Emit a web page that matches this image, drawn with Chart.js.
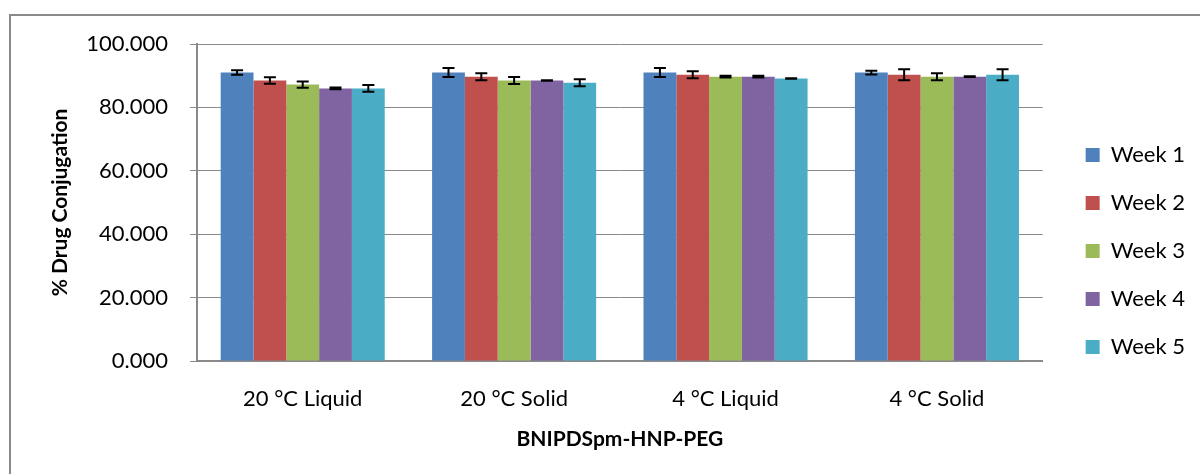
<!DOCTYPE html>
<html>
<head>
<meta charset="utf-8">
<script src="https://cdn.jsdelivr.net/npm/chart.js@4/dist/chart.umd.min.js"></script>
<style>
    html, body { margin: 0; padding: 0; background: #fff; overflow: hidden; }
    #wrap { position: relative; width: 1200px; height: 474px; }
    #frame {
        position: absolute; left: 9px; top: 14px; width: 1300px; height: 600px;
        border: 2px solid #898989; box-sizing: border-box;
    }
    canvas { position: absolute; left: 0; top: 0; }
</style>
</head>
<body>
<div id="wrap">
    <div id="frame"></div>
    <canvas id="conjChart" width="1200" height="474"></canvas>
</div>
<script>
// Storage conditions and weekly % drug conjugation (mean and error)
const conditions = ['20 \u00B0C Liquid', '20 \u00B0C Solid', '4 \u00B0C Liquid', '4 \u00B0C Solid'];
const weekLabels = ['Week 1', 'Week 2', 'Week 3', 'Week 4', 'Week 5'];

const week1 = [91.0, 91.0, 91.0, 91.0];
const week2 = [88.5, 89.7, 90.3, 90.3];
const week3 = [87.2, 88.5, 89.7, 89.7];
const week4 = [86.0, 88.5, 89.7, 89.7];
const week5 = [86.0, 87.8, 89.1, 90.3];

const err1 = [0.7, 1.4, 1.4, 0.6];
const err2 = [1.0, 1.1, 1.1, 1.7];
const err3 = [1.0, 1.1, 0.3, 1.1];
const err4 = [0.3, 0.1, 0.3, 0.1];
const err5 = [1.1, 1.1, 0.1, 1.7];

const yTicks = [0, 20, 40, 60, 80, 100];

const colors = ['#4F81BD', '#C0504D', '#9BBB59', '#8064A2', '#4BACC6'];
const axisGray = '#898989';
const font = 'Lato, "Open Sans", sans-serif';

const seriesValues = [week1, week2, week3, week4, week5];
const seriesErrors = [err1, err2, err3, err4, err5];

// whiskers with caps on top of every bar
const errorBars = {
    id: 'errorBars',
    afterDatasetsDraw(chart) {
        const ctx = chart.ctx;
        const yScale = chart.scales.y;
        ctx.save();
        ctx.strokeStyle = '#000';
        ctx.lineWidth = 2;
        chart.data.datasets.forEach((ds, i) => {
            const meta = chart.getDatasetMeta(i);
            meta.data.forEach((bar, j) => {
                const v = ds.data[j];
                const e = ds.errors[j];
                const top = yScale.getPixelForValue(v + e);
                const bottom = yScale.getPixelForValue(v - e);
                const x = bar.x;
                ctx.beginPath();
                ctx.moveTo(x, top);
                ctx.lineTo(x, bottom);
                ctx.moveTo(x - 6, top);
                ctx.lineTo(x + 6, top);
                ctx.moveTo(x - 6, bottom);
                ctx.lineTo(x + 6, bottom);
                ctx.stroke();
            });
        });
        ctx.restore();
    }
};

new Chart(document.getElementById('conjChart'), {
    type: 'bar',
    data: {
        labels: conditions,
        datasets: weekLabels.map((label, i) => ({
            label: label,
            data: seriesValues[i],
            errors: seriesErrors[i],
            backgroundColor: colors[i],
            borderWidth: 0,
            yAxisID: 'y'
        }))
    },
    options: {
        responsive: false,
        animation: false,
        devicePixelRatio: 1,
        layout: {
            padding: { left: 10, top: 44, right: 5, bottom: 16 }
        },
        datasets: {
            bar: {
                categoryPercentage: 0.776,
                barPercentage: 1.0
            }
        },
        plugins: {
            tooltip: { enabled: false },
            legend: {
                position: 'right',
                align: 'center',
                labels: {
                    boxWidth: 14,
                    boxHeight: 14,
                    padding: 26,
                    color: '#000',
                    font: { family: font, size: 22 }
                }
            }
        },
        scales: {
            x: {
                grid: { display: false },
                border: { display: true, color: axisGray, width: 2 },
                ticks: {
                    color: '#000',
                    padding: 17,
                    font: { family: font, size: 22 }
                },
                title: {
                    display: true,
                    text: 'BNIPDSpm-HNP-PEG',
                    color: '#000',
                    padding: { top: 0, bottom: 6 },
                    font: { family: font, size: 21, weight: 'bold' }
                },
                afterFit(scale) { scale.height = 97; }
            },
            y: {
                min: 0,
                max: 100,
                afterBuildTicks(scale) {
                    scale.ticks = yTicks.map(v => ({ value: v }));
                },
                grid: {
                    color: axisGray,
                    lineWidth: 1,
                    drawTicks: true,
                    tickLength: 7
                },
                border: { display: true, color: axisGray, width: 2 },
                ticks: {
                    color: '#000',
                    padding: 22,
                    font: { family: font, size: 22 },
                    callback: v => Number(v).toFixed(3)
                },
                title: {
                    display: true,
                    text: '% Drug Conjugation',
                    color: '#000',
                    padding: { top: 38, bottom: 0 },
                    font: { family: font, size: 21, weight: 'bold' }
                },
                afterFit(scale) { scale.width = 187; }
            },
            // spacer between plot and legend
            gap: {
                type: 'linear',
                position: 'right',
                display: true,
                grid: { display: false },
                border: { display: false },
                ticks: { display: false },
                afterFit(scale) { scale.width = 17; }
            }
        }
    },
    plugins: [errorBars]
});
</script>
</body>
</html>
